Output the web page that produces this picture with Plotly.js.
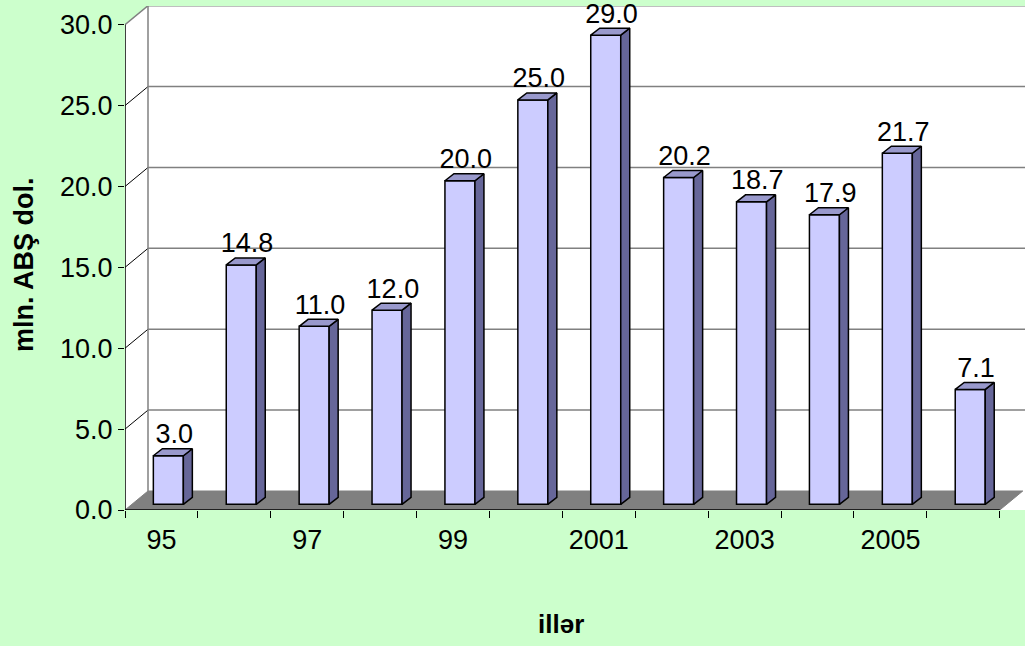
<!DOCTYPE html>
<html><head><meta charset="utf-8">
<script src="https://cdn.plot.ly/plotly-3.0.1.min.js"></script>
<style>html,body{margin:0;padding:0;background:#CCFFCC;}</style>
</head><body>
<div id="chart" style="width:1025px;height:646px;"></div>
<script>
// ---- data ----
const years = ['95','96','97','98','99','2000','2001','2002','2003','2004','2005','2006'];
const values = [3.0, 14.8, 11.0, 12.0, 20.0, 25.0, 29.0, 20.2, 18.7, 17.9, 21.7, 7.1];
const tickLabelsShown = ['95','97','99','2001','2003','2005'];
const yTicks = [0, 5, 10, 15, 20, 25, 30];
const xTitle = 'illər';
const yTitle = 'mln. ABŞ dol.';

// ---- 3D geometry (in axis units) ----
const XMAX = 11.846, YMAX = 31.156;
const wallDx = 0.3155, wallDy = 1.1745;   // depth of floor / side wall
const frontFrac = 0.3;                    // bar front plane position in depth
const barW = 0.4115;
const bDx = 0.1235, bDy = 0.433;          // bar depth

const idx = years.map((_, i) => i);
const fx = wallDx * frontFrac, fy = wallDy * frontFrac;
const FONT = 'Liberation Sans, Arial, sans-serif';

const traces = [];
// front faces
traces.push({
  type: 'bar', x: idx.map(i => i + fx), y: values, base: fy, width: barW,
  marker: {color: '#CCCCFF', line: {color: '#000000', width: 1.5}},
  hoverinfo: 'skip', showlegend: false
});
// side and top faces
values.forEach((v, i) => {
  const x0 = i + fx - barW / 2, x1 = i + fx + barW / 2;
  const yb = fy, yt = fy + v;
  traces.push({
    type: 'scatter', mode: 'lines', fill: 'toself', fillcolor: '#666699',
    x: [x1, x1 + bDx, x1 + bDx, x1, x1], y: [yb, yb + bDy, yt + bDy, yt, yb],
    line: {color: '#000000', width: 1.5}, hoverinfo: 'skip', showlegend: false
  });
  traces.push({
    type: 'scatter', mode: 'lines', fill: 'toself', fillcolor: '#9999CC',
    x: [x0, x1, x1 + bDx, x0 + bDx, x0], y: [yt, yt, yt + bDy, yt + bDy, yt],
    line: {color: '#000000', width: 1.5}, hoverinfo: 'skip', showlegend: false
  });
});
// data labels
traces.push({
  type: 'scatter', mode: 'text',
  x: idx.map(i => i + fx + 0.08), y: values.map(v => v + fy + bDy - 0.08),
  text: values.map(v => v.toFixed(1)), textposition: 'top center',
  textfont: {family: FONT, size: 27, color: '#000000'},
  cliponaxis: false, hoverinfo: 'skip', showlegend: false
});

// ---- walls, floor, gridlines as shapes ----
const shapes = [];
const xl = -0.5, xr = years.length - 0.5;
shapes.push({type: 'path', xref: 'x', yref: 'y', layer: 'below',
  path: `M ${xl},0 L ${xl},30 L ${xl + wallDx},${30 + wallDy} L ${XMAX + 1},${30 + wallDy} L ${XMAX + 1},0 Z`,
  fillcolor: '#FFFFFF', line: {width: 0}});
yTicks.filter(t => t > 0).forEach(t => {
  shapes.push({type: 'line', xref: 'x', yref: 'y', layer: 'below',
    x0: xl + wallDx, x1: XMAX + 1, y0: t + wallDy, y1: t + wallDy,
    line: {color: '#808080', width: 1.5}});
  shapes.push({type: 'line', xref: 'x', yref: 'y', layer: 'below',
    x0: xl, x1: xl + wallDx, y0: t, y1: t + wallDy,
    line: {color: t === 30 ? '#808080' : '#000000', width: t === 30 ? 1.5 : 1}});
});
shapes.push({type: 'line', xref: 'x', yref: 'y', layer: 'below',
  x0: xl + wallDx, x1: xl + wallDx, y0: wallDy, y1: 30 + wallDy,
  line: {color: '#808080', width: 1.5}});
shapes.push({type: 'path', xref: 'x', yref: 'y', layer: 'below',
  path: `M ${xl},0 L ${xr},0 L ${xr + wallDx},${wallDy} L ${xl + wallDx},${wallDy} Z`,
  fillcolor: '#808080', line: {color: '#808080', width: 1}});
shapes.push({type: 'line', xref: 'x', yref: 'y', layer: 'below',
  x0: xl, x1: xl, y0: 0, y1: 30, line: {color: '#000000', width: 1.5}});
shapes.push({type: 'line', xref: 'x', yref: 'y', layer: 'below',
  x0: xl, x1: xr, y0: 0, y1: 0, line: {color: '#000000', width: 1.5}});

const boundaries = [];
for (let i = 0; i <= years.length; i++) boundaries.push(i - 0.5);

const layout = {
  width: 1025, height: 646,
  margin: {l: 125, r: 0, t: 6, b: 136},
  paper_bgcolor: '#CCFFCC', plot_bgcolor: 'rgba(0,0,0,0)',
  font: {family: FONT, size: 27, color: '#000000'},
  showlegend: false,
  xaxis: {
    type: 'linear', range: [-0.5, XMAX], fixedrange: true,
    tickvals: tickLabelsShown.map(l => years.indexOf(l)), ticktext: tickLabelsShown,
    ticks: 'outside', ticklen: 6, tickcolor: 'rgba(0,0,0,0)',
    minor: {tickvals: boundaries, ticks: 'outside', ticklen: 7, tickcolor: '#000000', tickwidth: 1, showgrid: false},
    showgrid: false, zeroline: false, showline: false,
    tickfont: {size: 27}
  },
  yaxis: {
    range: [0, YMAX], fixedrange: true,
    tickvals: yTicks, ticktext: yTicks.map(t => t.toFixed(1)),
    ticks: 'outside', ticklen: 6, tickcolor: '#000000', tickwidth: 1,
    showgrid: false, zeroline: false, showline: false,
    tickfont: {size: 27}
  },
  annotations: [
    {text: '<b>' + xTitle + '</b>', xref: 'paper', yref: 'paper', x: (561 - 125) / 900, y: -(624 - 510) / 504,
     xanchor: 'center', yanchor: 'middle', showarrow: false, font: {family: FONT, size: 26}},
    {text: '<b>' + yTitle + '</b>', xref: 'paper', yref: 'paper', x: -(125 - 24) / 900, y: (510 - 265) / 504,
     xanchor: 'center', yanchor: 'middle', textangle: -90, showarrow: false, font: {family: FONT, size: 27}}
  ],
  shapes: shapes
};

Plotly.newPlot('chart', traces, layout, {displayModeBar: false, staticPlot: true});
</script>
</body></html>
